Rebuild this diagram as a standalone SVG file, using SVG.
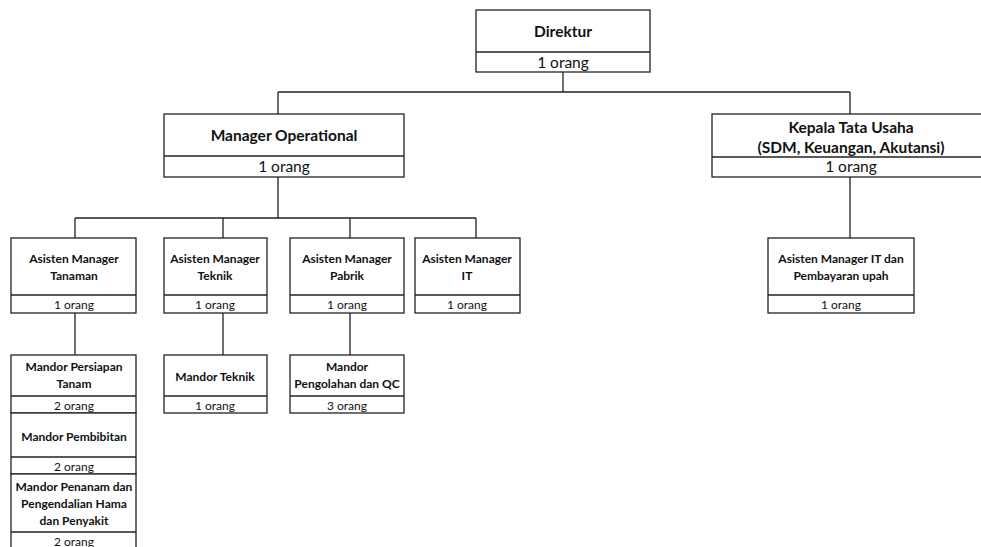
<svg xmlns="http://www.w3.org/2000/svg" width="981" height="547" viewBox="0 0 981 547">
<style>
rect{fill:#fff;stroke:#222;stroke-width:1.3}
line,path{stroke:#222;stroke-width:1.3;fill:none}
text{font-family:Lato,"Open Sans","Liberation Sans",sans-serif;fill:#111;text-anchor:middle;dominant-baseline:central}
.b{font-weight:bold}
.big{font-size:15.5px}
.sm{font-size:12px}
</style>
<rect x="0" y="0" width="981" height="547" style="stroke:none"/>
<g id="connectors">
<path d="M563 72V92M278 92H850M278 92V114M850 92V114"/>
<path d="M278 177V218M75 218H476M75 218V238M223 218V238M350 218V238M476 218V238"/>
<path d="M850 177V238"/>
<path d="M75 313V355M223 313V355M350 313V355"/>
</g>
<g id="direktur">
<rect x="476" y="10" width="174" height="62"/><line x1="476" y1="52" x2="650" y2="52"/>
<text x="563" y="31" class="b big">Direktur</text><text x="563" y="62" class="big">1 orang</text>
</g>
<g id="manager-operational">
<rect x="164" y="114" width="240" height="63"/><line x1="164" y1="156" x2="404" y2="156"/>
<text x="284" y="135" class="b big">Manager Operational</text><text x="284" y="166" class="big">1 orang</text>
</g>
<g id="kepala-tata-usaha">
<rect x="712" y="114" width="280" height="63"/><line x1="712" y1="157" x2="992" y2="157"/>
<text x="851" y="127" class="b big">Kepala Tata Usaha</text><text x="851" y="147" class="b big">(SDM, Keuangan, Akutansi)</text><text x="851" y="166" class="big">1 orang</text>
</g>
<g id="am-tanaman">
<rect x="11" y="238" width="125" height="75"/><line x1="11" y1="295" x2="136" y2="295"/>
<text x="74" y="258" class="b sm">Asisten Manager</text><text x="74" y="275" class="b sm">Tanaman</text><text x="74" y="304" class="sm">1 orang</text>
</g>
<g id="am-teknik">
<rect x="164" y="238" width="103" height="75"/><line x1="164" y1="295" x2="267" y2="295"/>
<text x="215" y="258" class="b sm">Asisten Manager</text><text x="215" y="275" class="b sm">Teknik</text><text x="215" y="304" class="sm">1 orang</text>
</g>
<g id="am-pabrik">
<rect x="290" y="238" width="114" height="75"/><line x1="290" y1="295" x2="404" y2="295"/>
<text x="347" y="258" class="b sm">Asisten Manager</text><text x="347" y="275" class="b sm">Pabrik</text><text x="347" y="304" class="sm">1 orang</text>
</g>
<g id="am-it">
<rect x="415" y="238" width="105" height="75"/><line x1="415" y1="295" x2="520" y2="295"/>
<text x="467" y="258" class="b sm">Asisten Manager</text><text x="467" y="275" class="b sm">IT</text><text x="467" y="304" class="sm">1 orang</text>
</g>
<g id="am-it-upah">
<rect x="768" y="238" width="146" height="75"/><line x1="768" y1="295" x2="914" y2="295"/>
<text x="841" y="258" class="b sm">Asisten Manager IT dan</text><text x="841" y="275" class="b sm">Pembayaran upah</text><text x="841" y="304" class="sm">1 orang</text>
</g>
<g id="mandor-persiapan">
<rect x="11" y="355" width="125" height="58"/><line x1="11" y1="396" x2="136" y2="396"/>
<text x="74" y="366" class="b sm">Mandor Persiapan</text><text x="74" y="383" class="b sm">Tanam</text><text x="74" y="405" class="sm">2 orang</text>
</g>
<g id="mandor-pembibitan">
<rect x="11" y="413" width="125" height="61"/><line x1="11" y1="457" x2="136" y2="457"/>
<text x="74" y="436" class="b sm">Mandor Pembibitan</text><text x="74" y="466" class="sm">2 orang</text>
</g>
<g id="mandor-penanam">
<rect x="11" y="474" width="125" height="90"/><line x1="11" y1="532" x2="136" y2="532"/>
<text x="74" y="486" class="b sm">Mandor Penanam dan</text><text x="74" y="503" class="b sm">Pengendalian Hama</text><text x="74" y="520" class="b sm">dan Penyakit</text><text x="74" y="541" class="sm">2 orang</text>
</g>
<g id="mandor-teknik">
<rect x="164" y="355" width="103" height="58"/><line x1="164" y1="396" x2="267" y2="396"/>
<text x="215" y="376" class="b sm">Mandor Teknik</text><text x="215" y="405" class="sm">1 orang</text>
</g>
<g id="mandor-pengolahan">
<rect x="290" y="355" width="114" height="58"/><line x1="290" y1="396" x2="404" y2="396"/>
<text x="347" y="366" class="b sm">Mandor</text><text x="347" y="383" class="b sm">Pengolahan dan QC</text><text x="347" y="405" class="sm">3 orang</text>
</g>
</svg>
